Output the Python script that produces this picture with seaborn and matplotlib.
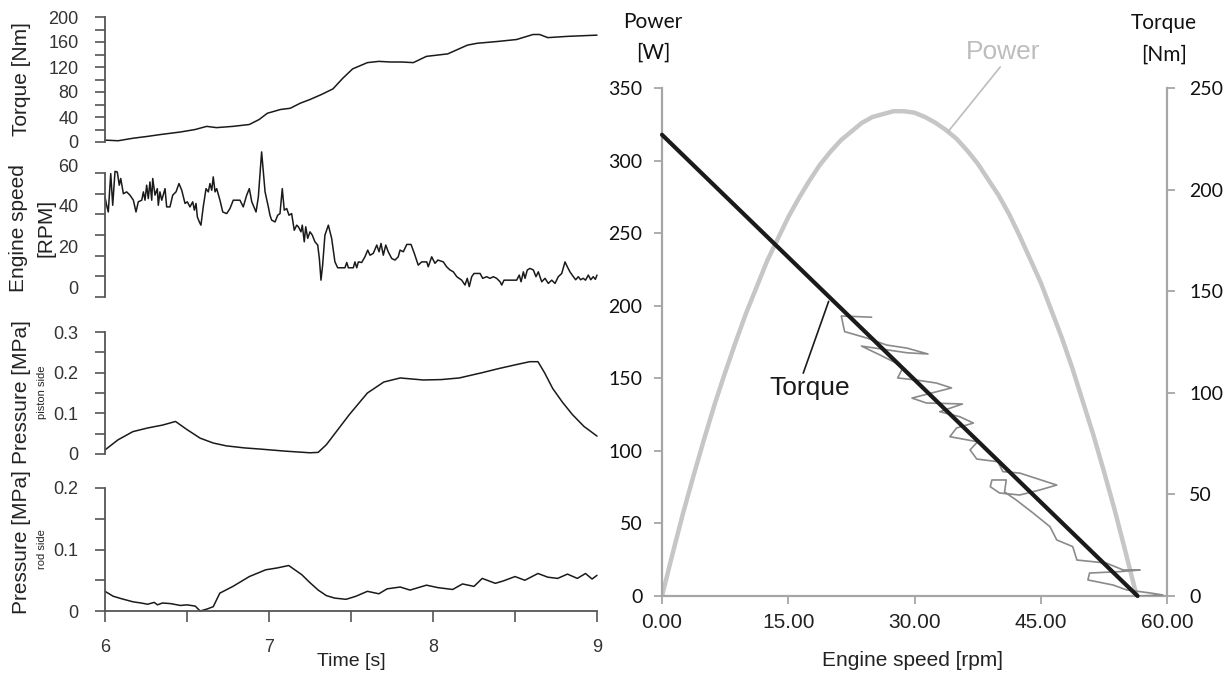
import matplotlib.pyplot as plt
import numpy as np
import pandas as pd
import seaborn as sns

# ---- left: time series ----
torque_t = [6.00, 6.08, 6.17, 6.26, 6.34, 6.46, 6.55, 6.62, 6.68, 6.78, 6.88, 6.94, 6.99, 7.07, 7.13,
            7.19, 7.25, 7.32, 7.39, 7.45, 7.51, 7.60, 7.67, 7.74, 7.81, 7.88, 7.96, 8.09, 8.15, 8.21,
            8.27, 8.40, 8.51, 8.61, 8.65, 8.70, 8.82, 9.00]
torque_nm = [3, 2, 6, 9, 12, 16, 20, 25, 23, 25, 28, 36, 46, 52, 54,
             62, 68, 76, 85, 102, 117, 127, 129, 128, 128, 127, 137, 141, 148, 155,
             158, 161, 164, 172, 172, 167, 169, 171]

speed_t = [6.000, 6.010, 6.020, 6.035, 6.047, 6.061, 6.075, 6.087, 6.096, 6.112, 6.132, 6.152, 6.173,
           6.189, 6.203, 6.224, 6.234, 6.244, 6.254, 6.264, 6.274, 6.285, 6.291, 6.305, 6.319, 6.325,
           6.335, 6.346, 6.355, 6.366, 6.376, 6.396, 6.413, 6.433, 6.451, 6.468, 6.488, 6.502, 6.518,
           6.535, 6.545, 6.555, 6.563, 6.575, 6.585, 6.599, 6.616, 6.630, 6.640, 6.651, 6.660, 6.671,
           6.681, 6.701, 6.718, 6.742, 6.762, 6.782, 6.823, 6.843, 6.864, 6.880, 6.895, 6.921, 6.935,
           6.955, 6.976, 6.996, 7.006, 7.016, 7.037, 7.053, 7.067, 7.081, 7.093, 7.108, 7.122, 7.138,
           7.154, 7.169, 7.179, 7.195, 7.203, 7.215, 7.224, 7.236, 7.250, 7.264, 7.280, 7.297, 7.307,
           7.317, 7.327, 7.341, 7.362, 7.382, 7.402, 7.419, 7.463, 7.474, 7.484, 7.514, 7.524, 7.535,
           7.545, 7.565, 7.585, 7.602, 7.616, 7.636, 7.657, 7.671, 7.683, 7.697, 7.712, 7.727, 7.748,
           7.768, 7.788, 7.799, 7.819, 7.840, 7.866, 7.886, 7.910, 7.931, 7.962, 7.971, 7.992, 8.012,
           8.030, 8.063, 8.083, 8.104, 8.124, 8.145, 8.175, 8.195, 8.209, 8.221, 8.236, 8.250, 8.287,
           8.303, 8.327, 8.348, 8.368, 8.388, 8.409, 8.419, 8.433, 8.510, 8.526, 8.537, 8.551, 8.561,
           8.575, 8.591, 8.612, 8.628, 8.642, 8.663, 8.683, 8.703, 8.724, 8.744, 8.764, 8.785, 8.805,
           8.819, 8.835, 8.856, 8.870, 8.886, 8.900, 8.916, 8.930, 8.947, 8.962, 8.977, 8.990, 9.000]
speed_rpm = [44.4, 40.3, 37.0, 55.9, 40.3, 57.0, 56.7, 50.2, 53.5, 46.0, 46.9, 45.3, 42.8,
             37.0, 42.0, 42.8, 46.9, 42.8, 50.2, 43.6, 51.8, 42.8, 53.5, 45.3, 48.5, 40.3,
             46.9, 42.8, 45.3, 48.5, 39.5, 39.5, 45.3, 46.9, 51.0, 47.7, 41.2, 42.0, 39.5,
             42.0, 37.9, 41.2, 34.6, 32.1, 30.5, 39.5, 48.5, 46.9, 51.0, 47.7, 54.3, 46.9,
             48.5, 42.8, 37.0, 36.2, 38.7, 42.8, 42.8, 39.5, 45.3, 48.5, 42.0, 37.0, 44.4,
             66.6, 46.9, 39.5, 35.4, 33.0, 32.1, 35.4, 36.2, 48.5, 37.9, 38.7, 35.4, 36.2,
             28.0, 30.5, 29.7, 27.2, 30.5, 22.3, 29.7, 24.0, 27.2, 25.6, 22.3, 20.7, 14.1,
             3.4, 10.8, 25.6, 30.5, 24.0, 12.4, 9.5, 9.5, 12.1, 9.5, 9.5, 12.4, 9.5,
             12.4, 12.1, 14.9, 18.2, 15.7, 16.6, 20.7, 17.4, 21.5, 15.7, 20.7, 17.4, 14.1,
             13.3, 14.9, 18.2, 17.4, 21.0, 21.0, 16.6, 10.8, 12.4, 12.4, 10.0, 14.9, 11.7,
             13.3, 12.4, 10.0, 8.4, 7.5, 5.1, 3.4, 1.0, 4.3, 0.2, 5.1, 6.7, 6.7,
             4.3, 5.1, 4.3, 5.1, 4.3, 2.6, 1.0, 3.4, 3.4, 5.9, 2.6, 7.5, 4.3,
             8.4, 9.2, 8.4, 5.1, 7.5, 2.6, 4.3, 1.8, 3.4, 1.8, 5.1, 6.7, 12.4,
             10.0, 7.5, 5.1, 3.6, 5.1, 3.6, 4.3, 3.4, 5.9, 3.6, 5.1, 3.8, 5.9]

piston_t = [6.00, 6.08, 6.17, 6.26, 6.35, 6.43, 6.50, 6.58, 6.66, 6.74, 6.85, 6.95, 7.10, 7.25,
            7.30, 7.35, 7.42, 7.49, 7.60, 7.70, 7.80, 7.94, 8.05, 8.16, 8.30, 8.40, 8.51, 8.59,
            8.64, 8.68, 8.73, 8.79, 8.85, 8.92, 9.00]
piston_mpa = [0.010, 0.035, 0.055, 0.064, 0.071, 0.080, 0.060, 0.039, 0.027, 0.020, 0.015, 0.012, 0.007, 0.003,
              0.004, 0.023, 0.060, 0.097, 0.150, 0.177, 0.187, 0.182, 0.183, 0.187, 0.200, 0.210, 0.220, 0.227,
              0.227, 0.200, 0.161, 0.127, 0.097, 0.068, 0.044]

rod_t = [6.00, 6.05, 6.10, 6.17, 6.22, 6.26, 6.30, 6.32, 6.35, 6.40, 6.46, 6.50, 6.55, 6.58, 6.62, 6.66,
         6.70, 6.78, 6.88, 6.98, 7.05, 7.12, 7.20, 7.25, 7.30, 7.35, 7.40, 7.47, 7.53, 7.60, 7.67,
         7.72, 7.80, 7.86, 7.96, 8.03, 8.12, 8.18, 8.25, 8.30, 8.38, 8.43, 8.50, 8.56, 8.64, 8.70,
         8.76, 8.82, 8.88, 8.93, 8.97, 9.00]
rod_mpa = [0.032, 0.024, 0.020, 0.015, 0.013, 0.011, 0.014, 0.010, 0.013, 0.012, 0.009, 0.010, 0.008, 0.000, 0.003, 0.007,
           0.029, 0.040, 0.056, 0.067, 0.070, 0.074, 0.059, 0.046, 0.034, 0.025, 0.021, 0.019, 0.024, 0.032, 0.028,
           0.036, 0.039, 0.034, 0.042, 0.038, 0.035, 0.044, 0.040, 0.053, 0.045, 0.049, 0.056, 0.050, 0.061, 0.055,
           0.053, 0.060, 0.053, 0.061, 0.052, 0.058]

# ---- right: torque-speed ----
power_rpm = [0, 1.25, 2.5, 3.75, 5, 6.25, 7.5, 8.75, 10, 11.25, 12.5, 13.75, 15, 16.25, 17.5,
             18.75, 20, 21.25, 22.5, 23.75, 25, 26.25, 27.5, 28.75, 30, 31.25, 32.5, 33.75, 35,
             36.25, 37.5, 38.75, 40, 41.25, 42.5, 43.75, 45, 46.25, 47.5, 48.75, 50, 51.25,
             52.5, 53.75, 55, 56.4]
power_w = [0, 29, 57, 83, 108, 132, 154, 175, 195, 213, 231, 246, 261, 274, 286,
           297, 306, 314, 320, 326, 330, 332, 334, 334, 333, 330, 326, 321, 315,
           307, 298, 287, 276, 263, 248, 232, 216, 197, 178, 157, 134, 111,
           86, 60, 32, 0]

fit_rpm = [0, 56.5]
fit_nm = [227, 0]

meas_rpm = [24.9, 21.3, 21.7, 24.3, 26.7, 29.1, 31.6, 29.1, 23.7, 25.9, 27.9, 28.6, 28.0, 30.2,
            32.6, 34.4, 32.6, 29.7, 31.4, 35.7, 33.0, 35.4, 37.0, 35.0, 34.2, 37.5, 36.6, 37.4,
            39.9, 40.5, 42.5, 46.9, 44.9, 42.5, 40.1, 39.0, 39.2, 40.9, 40.7, 42.1, 44.1, 46.1,
            46.9, 48.8, 49.3, 52.8, 54.8, 56.8, 54.4, 50.8, 50.6, 53.6, 55.2, 58.0, 59.5, 56.8]
meas_nm = [137.2, 137.8, 130.1, 127.0, 123.5, 122.0, 119.1, 119.7, 123.0, 118.6, 114.5, 112.2, 107.3, 106.3,
           104.8, 102.4, 100.5, 97.4, 95.0, 94.5, 90.7, 88.2, 85.1, 82.7, 78.4, 75.9, 71.9, 67.4,
           66.1, 61.2, 60.5, 54.6, 52.2, 49.7, 50.7, 53.8, 57.1, 57.1, 51.2, 47.2, 40.8, 34.1,
           27.6, 24.3, 17.7, 16.2, 12.8, 12.8, 12.0, 11.3, 7.9, 5.4, 3.0, 1.5, 0.5, 0.0]

sns.set_style("ticks")
plt.rcParams['font.family'] = ['Liberation Sans', 'DejaVu Sans']

W, H = 1228, 677
fig = plt.figure(figsize=(W / 100, H / 100), dpi=100)


def box(x0, y_top, x1, y_bot):
    return [x0 / W, 1 - y_bot / H, (x1 - x0) / W, (y_bot - y_top) / H]


ink = '#1a1a1a'
spine_c = '#555555'

left_specs = [
    (torque_t, torque_nm, 17, 142, (0, 200), np.arange(0, 201, 20), 40),
    (speed_t, speed_rpm, 145, 297, (-4.9, 70), None, None),
    (piston_t, piston_mpa, 332, 454, (0, 0.3), np.arange(0, 0.301, 0.05), 0.1),
    (rod_t, rod_mpa, 488, 611, (0, 0.2), np.arange(0, 0.201, 0.05), 0.1),
]
axes_left = []
for t, v, ytop, ybot, ylim, ticks, step in left_specs:
    ax = fig.add_axes(box(105, ytop, 597, ybot))
    ax.set_facecolor('none')
    sns.lineplot(x=t, y=v, ax=ax, color=ink, lw=1.1, estimator=None, clip_on=False)
    ax.set_xlim(6, 9)
    ax.set_ylim(*ylim)
    for s in ['top', 'right', 'bottom']:
        ax.spines[s].set_visible(False)
    ax.spines['left'].set_color(spine_c)
    ax.spines['left'].set_linewidth(1.3)
    ax.tick_params(axis='y', direction='out', length=7, width=1.2, color=spine_c,
                   pad=12, labelsize=13, labelcolor='#333333')
    if ticks is not None:
        ax.set_yticks(ticks)
        labs = []
        for tk in ticks:
            r = tk / step
            if abs(r - round(r)) < 1e-6:
                labs.append('0' if abs(tk) < 1e-9 else f'{tk:g}')
            else:
                labs.append('')
        ax.set_yticklabels(labs)
    ax.set_xticks([])
    axes_left.append(ax)

# engine speed panel: labels at 0..60, ticks along the shorter spine
ax_s = axes_left[1]
ax_s.spines['left'].set_bounds(-4.9, 56.1)
ax_s.set_yticks([0, 20, 40, 60])
ax_s.set_yticklabels(['0', '20', '40', '60'])
ax_s.tick_params(axis='y', which='major', length=0, pad=19)
ax_s.set_yticks(np.linspace(-4.9, 56.1, 7), minor=True)
ax_s.tick_params(axis='y', which='minor', direction='out', length=7, width=1.2, color=spine_c)

ax_r = axes_left[3]
ax_r.spines['bottom'].set_visible(True)
ax_r.spines['bottom'].set_color(spine_c)
ax_r.spines['bottom'].set_linewidth(1.3)
ax_r.set_xticks(np.arange(6, 9.01, 0.5))
ax_r.set_xticklabels(['6', '', '7', '', '8', '', '9'])
ax_r.tick_params(axis='x', direction='out', length=8, width=1.2, color=spine_c,
                 pad=12, labelsize=13, labelcolor='#333333')

lab_kw = dict(rotation=90, ha='center', va='center', color='#222222')
fig.text(22 / W, 1 - 79 / H, 'Torque [Nm]', fontsize=15, **lab_kw)
fig.text(19 / W, 1 - 228 / H, 'Engine speed', fontsize=15, **lab_kw)
fig.text(46 / W, 1 - 228 / H, '[RPM]', fontsize=15, **lab_kw)
fig.text(22 / W, 1 - 392 / H, 'Pressure [MPa]', fontsize=15, **lab_kw)
fig.text(42 / W, 1 - 392 / H, 'piston side', fontsize=8, **lab_kw)
fig.text(22 / W, 1 - 542 / H, 'Pressure [MPa]', fontsize=15, **lab_kw)
fig.text(42 / W, 1 - 549 / H, 'rod side', fontsize=8, **lab_kw)
fig.text(351 / W, 1 - 662 / H, 'Time [s]', fontsize=14, ha='center', va='center', color='#222222')

# ---- right panel ----
axp = fig.add_axes(box(662, 88, 1167, 596))
axp.set_facecolor('none')
axt = axp.twinx()

sns.lineplot(x=power_rpm, y=power_w, ax=axp, color='#c6c6c6', lw=3.2, estimator=None)
sns.lineplot(x=meas_rpm, y=meas_nm, ax=axt, color='#8a8a8a', lw=1.2, estimator=None, sort=False)
sns.lineplot(x=fit_rpm, y=fit_nm, ax=axt, color=ink, lw=3.0, estimator=None, clip_on=False)

axp.set_xlim(0, 60)
axp.set_ylim(0, 350)
axt.set_ylim(0, 250)
axp.set_xticks([0, 15, 30, 45, 60])
axp.set_xticklabels(['0.00', '15.00', '30.00', '45.00', '60.00'])
axp.set_yticks(np.arange(0, 351, 50))
axt.set_yticks(np.arange(0, 251, 50))

gray = '#a6a6a6'
for a in (axp, axt):
    a.spines['top'].set_visible(False)
    for s in ['left', 'right', 'bottom']:
        a.spines[s].set_color(gray)
        a.spines[s].set_linewidth(1.6)
axp.spines['right'].set_visible(False)
axt.spines['left'].set_visible(False)
axt.spines['bottom'].set_visible(False)

axp.tick_params(axis='x', direction='out', length=6, width=1.3, color=gray, pad=6,
                labelsize=15, labelcolor='#222222')
axp.tick_params(axis='y', direction='out', length=6, width=1.3, color=gray, pad=8,
                labelsize=14, labelcolor='#111111')
axt.tick_params(axis='y', direction='out', length=6, width=1.3, color=gray, pad=10,
                labelsize=14, labelcolor='#111111')
for lab in axp.get_yticklabels() + axt.get_yticklabels():
    lab.set_family(['Lato', 'DejaVu Sans'])
axp.set_xlabel('')
axp.set_ylabel('')
axt.set_ylabel('')

fig.text(913 / W, 1 - 660 / H, 'Engine speed [rpm]', fontsize=15, ha='center', va='center', color='#222222')

hdr = dict(ha='center', va='center', fontsize=15, color='#111111', family=['Lato', 'DejaVu Sans'])
fig.text(653 / W, 1 - 22 / H, 'Power', **hdr)
fig.text(653 / W, 1 - 53 / H, '[W]', **hdr)
fig.text(1164 / W, 1 - 23 / H, 'Torque', **hdr)
fig.text(1164 / W, 1 - 55 / H, '[Nm]', **hdr)

axp.annotate('Torque', xy=(19.8, 203), xytext=(17.6, 143), ha='center', va='center',
             fontsize=19, color=ink,
             arrowprops=dict(arrowstyle='-', color=ink, lw=1.2, relpos=(0.4, 1.0), shrinkA=0, shrinkB=0))
axp.annotate('Power', xy=(34.0, 320), xytext=(40.5, 375), ha='center', va='center',
             fontsize=19, color='#bdbdbd', annotation_clip=False,
             arrowprops=dict(arrowstyle='-', color='#bdbdbd', lw=1.2, relpos=(0.5, 0.0), shrinkA=0, shrinkB=0))

fig.savefig('out.png', dpi=100)
